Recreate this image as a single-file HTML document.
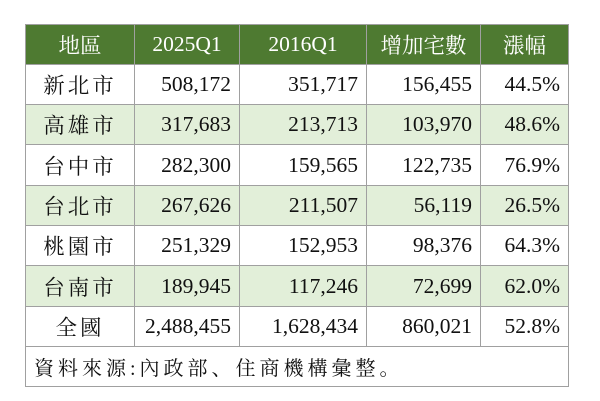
<!DOCTYPE html>
<html><head><meta charset="utf-8"><style>
body{margin:0;background:#fff;width:600px;height:401px;overflow:hidden;}
table{position:absolute;left:25px;top:24px;border-collapse:collapse;font-family:"Liberation Serif","Noto Serif CJK SC",serif;font-size:21.5px;color:#111;}
td,th{border:1px solid #a0a0a0;padding:0 8px;height:39px;box-sizing:border-box;}
th{background:#4e7a31;color:#fff;font-weight:normal;text-align:center;height:40px;}
td{text-align:right;}
td.c{text-align:center;letter-spacing:3px;}
tr.g td{background:#e2efd9;}
td.f{text-align:left;letter-spacing:4px;font-size:20px;}
</style></head><body>
<table>
<colgroup><col style="width:109px"><col style="width:105px"><col style="width:127px"><col style="width:114px"><col style="width:88px"></colgroup>
<tr><th>地區</th><th>2025Q1</th><th>2016Q1</th><th>增加宅數</th><th>漲幅</th></tr>
<tr style="height:40px"><td class="c">新北市</td><td>508,172</td><td>351,717</td><td>156,455</td><td>44.5%</td></tr>
<tr class="g" style="height:40px"><td class="c">高雄市</td><td>317,683</td><td>213,713</td><td>103,970</td><td>48.6%</td></tr>
<tr style="height:41px"><td class="c">台中市</td><td>282,300</td><td>159,565</td><td>122,735</td><td>76.9%</td></tr>
<tr class="g" style="height:40px"><td class="c">台北市</td><td>267,626</td><td>211,507</td><td>56,119</td><td>26.5%</td></tr>
<tr style="height:40px"><td class="c">桃園市</td><td>251,329</td><td>152,953</td><td>98,376</td><td>64.3%</td></tr>
<tr class="g" style="height:41px"><td class="c">台南市</td><td>189,945</td><td>117,246</td><td>72,699</td><td>62.0%</td></tr>
<tr style="height:40px"><td class="c">全國</td><td>2,488,455</td><td>1,628,434</td><td>860,021</td><td>52.8%</td></tr>
<tr style="height:40px"><td class="f" colspan="5">資料來源:內政部、住商機構彙整。</td></tr>
</table>
</body></html>
